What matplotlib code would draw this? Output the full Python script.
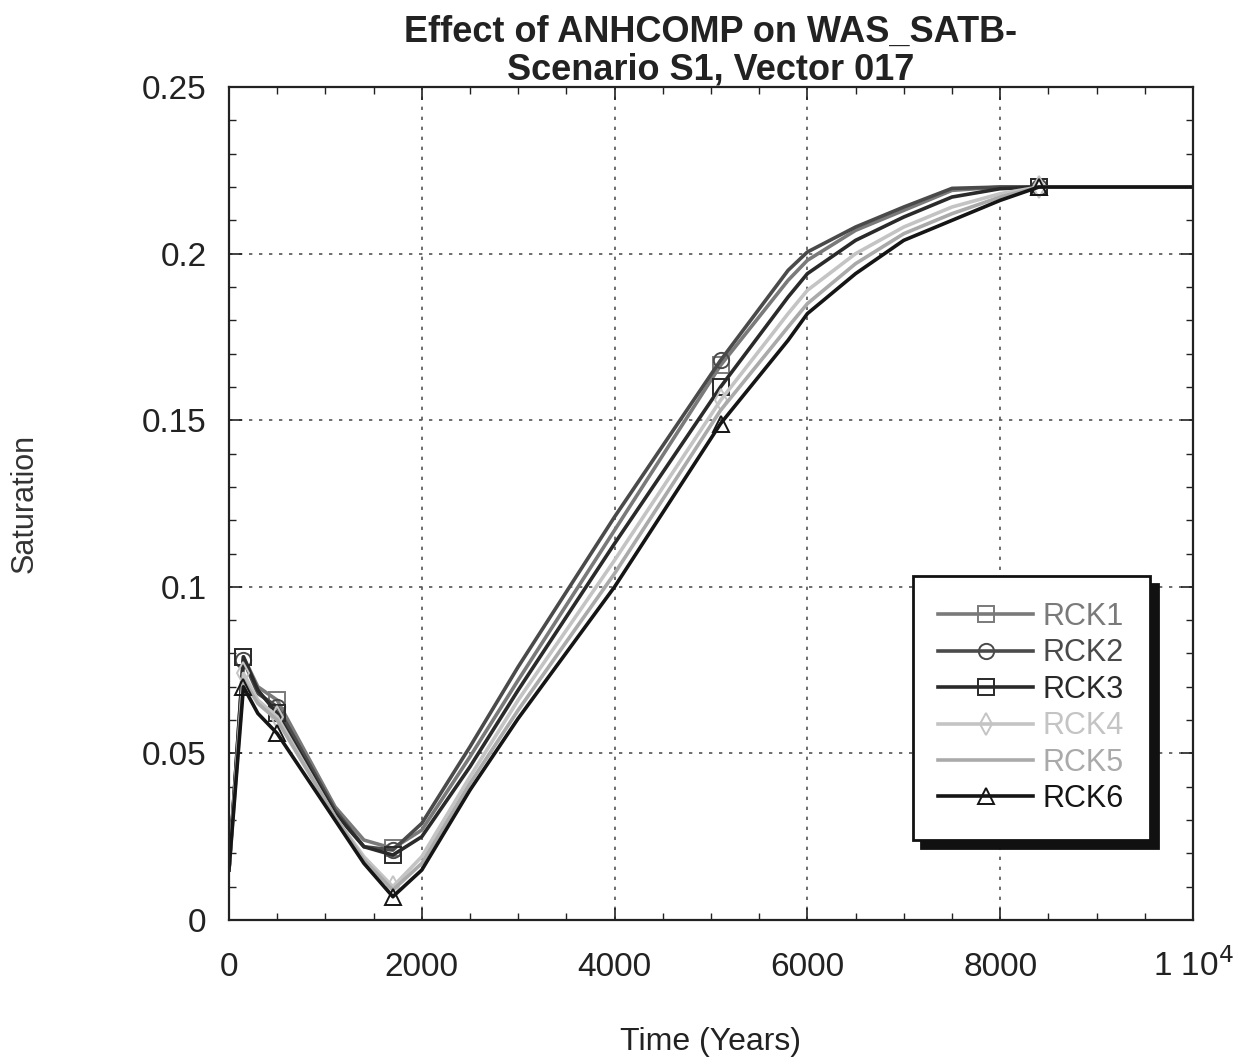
import matplotlib
matplotlib.use("Agg")
import matplotlib.pyplot as plt
from matplotlib.patches import Shadow
from matplotlib.ticker import MultipleLocator

plt.rcParams['font.family'] = ['Liberation Sans', 'DejaVu Sans']

# ---------------- data ----------------
time_years = [0, 150, 300, 500, 1100, 1400, 1700, 2000, 2500, 3000, 4000,
              5100, 5800, 6000, 6500, 7000, 7500, 8000, 8400, 10000]

rck1 = [0.015, 0.079, 0.070, 0.066, 0.034, 0.024, 0.0215, 0.027, 0.049, 0.072, 0.117,
        0.1665, 0.192, 0.198, 0.207, 0.213, 0.219, 0.220, 0.220, 0.220]
rck2 = [0.015, 0.078, 0.068, 0.064, 0.033, 0.022, 0.021, 0.029, 0.052, 0.076, 0.121,
        0.168, 0.195, 0.2005, 0.208, 0.214, 0.2196, 0.220, 0.220, 0.220]
rck3 = [0.015, 0.079, 0.069, 0.062, 0.032, 0.022, 0.0195, 0.025, 0.046, 0.069, 0.113,
        0.160, 0.187, 0.194, 0.204, 0.211, 0.217, 0.2195, 0.220, 0.220]
rck4 = [0.015, 0.074, 0.066, 0.061, 0.031, 0.019, 0.010, 0.019, 0.043, 0.066, 0.108,
        0.156, 0.182, 0.189, 0.200, 0.208, 0.214, 0.218, 0.220, 0.220]
rck5 = [0.015, 0.072, 0.065, 0.060, 0.031, 0.018, 0.009, 0.017, 0.041, 0.063, 0.104,
        0.153, 0.178, 0.185, 0.197, 0.206, 0.212, 0.217, 0.220, 0.220]
rck6 = [0.015, 0.070, 0.062, 0.056, 0.030, 0.017, 0.007, 0.015, 0.039, 0.0605, 0.100,
        0.149, 0.174, 0.182, 0.194, 0.204, 0.210, 0.216, 0.220, 0.220]

series_labels = ["RCK1", "RCK2", "RCK3", "RCK4", "RCK5", "RCK6"]
series_values = [rck1, rck2, rck3, rck4, rck5, rck6]

x_ticks = [0, 2000, 4000, 6000, 8000, 10000]
x_tick_labels = ["0", "2000", "4000", "6000", "8000", "1 10$^{4}$"]
y_ticks = [0, 0.05, 0.1, 0.15, 0.2, 0.25]
y_tick_labels = ["0", "0.05", "0.1", "0.15", "0.2", "0.25"]

# ---------------- styles ----------------
colors = ['#7a7a7a', '#4a4a4a', '#2a2a2a', '#c4c4c4', '#aaaaaa', '#151515']
markers = ['s', 'o', 's', 'd', None, '^']
mark_idx = [1, 3, 6, 11, 18]

fig = plt.figure(figsize=(12.41, 10.62), dpi=100)
ax = fig.add_axes([0.1845, 0.1337, 0.9613 - 0.1845, 0.918 - 0.1337])

for lab, vals, c, m in zip(series_labels, series_values, colors, markers):
    ax.plot(time_years, vals, color=c, lw=2.6, marker=m, markevery=mark_idx,
            markersize=11, markerfacecolor='none', markeredgecolor=c,
            markeredgewidth=1.4, label=lab, solid_joinstyle='round')

ax.set_xlim(0, 10000)
ax.set_ylim(0, 0.25)
ax.set_xticks(x_ticks)
ax.set_xticklabels(x_tick_labels, va='baseline')
ax.set_yticks(y_ticks)
ax.set_yticklabels(y_tick_labels)
ax.xaxis.set_minor_locator(MultipleLocator(500))
ax.yaxis.set_minor_locator(MultipleLocator(0.01))
ax.tick_params(which='both', direction='in', top=True, right=True, colors='#222222')
ax.tick_params(which='major', length=9, width=1.2, labelsize=24)
ax.tick_params(axis='y', which='major', pad=16)
ax.tick_params(axis='x', which='major', pad=40)
ax.tick_params(which='minor', length=5, width=1.0)
ax.grid(True, which='major', linestyle=(0, (2, 4)), color='#555555', lw=1.2)
for s in ax.spines.values():
    s.set_linewidth(1.6)
    s.set_color('#222222')

ax.set_title("Effect of ANHCOMP on WAS_SATB-\nScenario S1, Vector 017",
             fontsize=26, fontweight='bold', pad=5, linespacing=1.1, color='#222222')
ax.set_xlabel("Time (Years)", fontsize=23, color='#222222')
ax.set_ylabel("Saturation", fontsize=22, color='#333333')
ax.xaxis.set_label_coords(0.5, -0.128)
ax.yaxis.set_label_coords(-0.196, 0.5)

leg = ax.legend(loc='lower right', bbox_to_anchor=(0.955, 0.096), fontsize=22,
                frameon=True, fancybox=False, edgecolor='#111111', framealpha=1,
                handlelength=3.1, labelspacing=0.21, borderpad=0.85, handletextpad=0.3,
                borderaxespad=0)
leg.get_frame().set_linewidth(2.0)
leg.set_zorder(6)
for txt, c in zip(leg.get_texts(), colors):
    txt.set_color(c)

fig.canvas.draw()
sh = Shadow(leg.legendPatch, 6, -6, color='#111111', alpha=1.0)
sh.set_zorder(5.5)
sh.set_clip_on(False)
ax.add_artist(sh)

fig.savefig("out.png", dpi=100)
